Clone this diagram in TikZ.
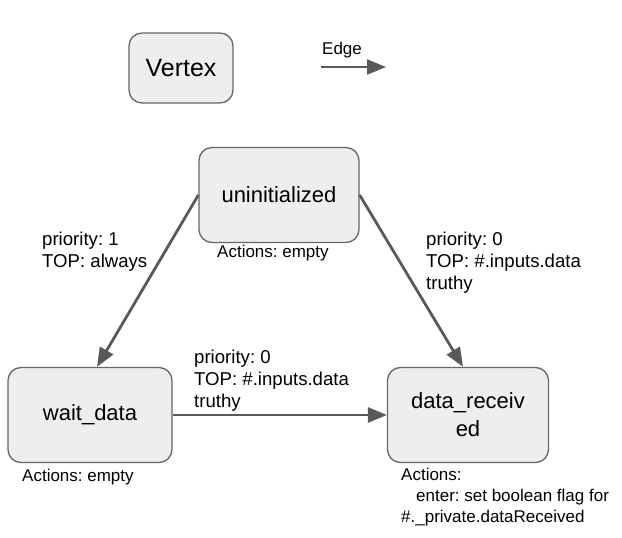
\documentclass[tikz,border=0pt]{standalone}
\usepackage{fontspec}
\setmainfont{Liberation Sans}
\usetikzlibrary{positioning,arrows.meta}
\definecolor{boxfill}{HTML}{EEEEEE}
\definecolor{boxline}{HTML}{666666}
\definecolor{edgeline}{HTML}{595959}
\frenchspacing
\tikzset{
  state box/.style={
    fill=boxfill,
    draw=boxline,
    line width=1.3pt,
    rounded corners=13pt,
    minimum width={#1},
    minimum height={95pt},
    align=center,
    font=\fontsize{22}{28}\selectfont,
  },
  edge/.style={
    draw=edgeline,
    line width=2.8pt,
    -{Triangle[length=19pt,width=15pt]},
  },
  edge label/.style={
    anchor=north west,
    inner sep=0pt,
    align=left,
    font=\fontsize{18.6}{22}\selectfont,
  },
  note/.style={
    anchor=north west,
    inner sep=0pt,
    align=left,
    font=\fontsize{17}{21}\selectfont,
  }
}
\begin{document}
\begin{tikzpicture}[x=1pt,y=-1pt]
        \useasboundingbox (0,0) rectangle (622,538);

        % legend
        \node [state box=104pt, minimum height=70pt, font=\fontsize{25}{30}\selectfont] (vertex) at (181,68) {Vertex};
        \coordinate (e1) at (321,67);
        \coordinate (e2) at (386,67);
        \draw [edge, line width=2.4pt] (e1) -- (e2);
        \node [note, anchor=south west] (edgetext) at (322,58) {Edge};

        % states
        \node [state box=160pt] (uninit) at (279,195) {uninitialized};
        \node [state box=164pt] (wait) at (90,415) {wait\_data};
        \node [state box=161pt] (recv) at (468,415) {data\_receiv\\ed};

        \node [note] (a1) at (217,245) {Actions: empty};
        \node [note] (a2) at (22,469) {Actions: empty};
        \node [note] (a3) at (401,468) {Actions:\\\hspace*{15pt}enter: set boolean flag for\\\#.\_private.dataReceived};

        % transitions
        \draw [edge] (uninit.west) -- ([xshift=7pt]wait.north);
        \draw [edge] (uninit.east) -- ([xshift=-5pt]recv.north);
        \draw [edge] (wait.east) -- (recv.west);

        \node [edge label] (l1) at (42,232) {priority: 1\\TOP: always};
        \node [edge label] (l2) at (426,232) {priority: 0\\TOP: \#.inputs.data\\truthy};
        \node [edge label] (l3) at (194,350) {priority: 0\\TOP: \#.inputs.data\\truthy};
      \end{tikzpicture}
\end{document}
